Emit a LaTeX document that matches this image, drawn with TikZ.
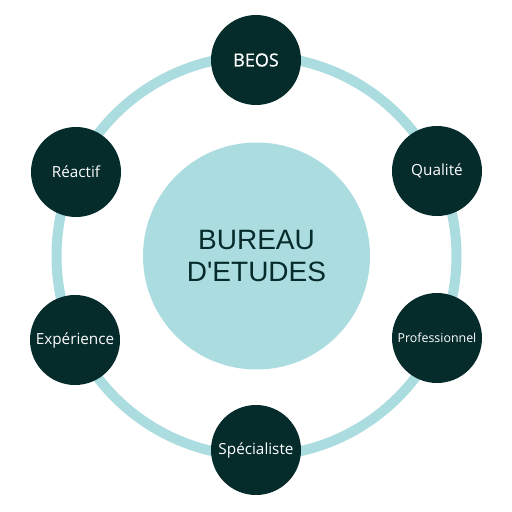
\documentclass[tikz,border=0pt]{standalone}
\usepackage{fontspec}
\setmainfont{Open Sans}
\newfontfamily\arialfont{Liberation Sans}
\newfontfamily\beosfont[FakeBold=0.8]{Open Sans}
\definecolor{darkteal}{HTML}{062B2B}
\definecolor{lightteal}{HTML}{ABDCE0}
\begin{document}
\begin{tikzpicture}[x=1pt,y=-1pt,
  small/.style={circle,fill=darkteal,minimum size=90pt,inner sep=0pt,text=white,font=\fontsize{15.3}{17}\selectfont},
  hub/.style={circle,fill=lightteal,minimum size=227pt,inner sep=0pt,text=darkteal,align=center,font=\arialfont\fontsize{28}{32}\selectfont}]
\useasboundingbox[fill=white] (0,0) rectangle (512,512);
\coordinate (c) at (256.5,256);
\draw[lightteal,line width=10pt] (c) circle[radius=200];
\node[hub] (hub) at (c) {BUREAU\\D'ETUDES};
\node[small,font=\beosfont\fontsize{18}{20}\selectfont] (beos) at (256,60) {BEOS};
\node[small] (qual) at (437,171) {Qualité};
\node[small,font=\fontsize{12.4}{14}\selectfont] (pro) at (437,338) {Professionnel};
\node[small] (spec) at (256,450) {Spécialiste};
\node[small] (exp) at (75,340) {Expérience};
\node[small] (rea) at (76,172) {Réactif};
\end{tikzpicture}
\end{document}
